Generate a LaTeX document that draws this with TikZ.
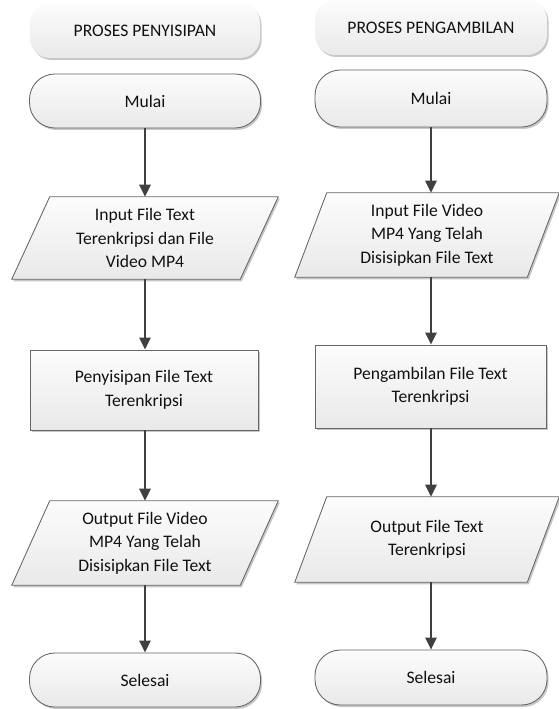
\documentclass[tikz,border=0pt]{standalone}
\usepackage{fontspec}
\setmainfont{Carlito}
\usetikzlibrary{shadows,arrows.meta,backgrounds}
\definecolor{edgec}{HTML}{666666}
\definecolor{arrowc}{HTML}{404040}
\definecolor{txtc}{HTML}{111111}
\definecolor{topc}{HTML}{FCFCFC}
\definecolor{botc}{HTML}{E9E9E9}
\tikzset{
  base/.style={inner sep=0pt, align=center, text=txtc, font=\fontsize{13.2}{17.6}\selectfont},
  shfill/.style={top color=topc, bottom color=botc,
     drop shadow={shadow xshift=1.2pt, shadow yshift=-1.5pt, opacity=0.22, fill=black}},
  titlebox/.style={base, shfill, rounded corners=15pt},
  termbox/.style={base, shfill, draw=edgec, line width=0.65pt, rounded corners=19pt},
  procbox/.style={base, shfill, draw=edgec, line width=0.65pt},
  iobox/.style={base},
  paraline/.style={shfill, draw=edgec, line width=0.65pt},
  arr/.style={draw=arrowc, line width=1.3pt, -{Triangle[length=9pt,width=8.5pt]}}
}
\begin{document}
\begin{tikzpicture}[x=0.75pt,y=-0.75pt]
\useasboundingbox (0,0) rectangle (559,709);

% left column
\node[titlebox, minimum width=172.5pt, minimum height=41.25pt] (tL) at (145,30.5) {PROSES PENYISIPAN};
\node[termbox, minimum width=173.25pt, minimum height=40.5pt] (mL) at (145,101) {Mulai};
\node[iobox, minimum width=199.5pt, minimum height=61.5pt] (pL) at (145,238) {Input File Text\\Terenkripsi dan File\\Video MP4};
\node[procbox, minimum width=171pt, minimum height=60pt] (rL) at (144,390) {Penyisipan File Text\\Terenkripsi};
\node[iobox, minimum width=199.5pt, minimum height=63pt] (oL) at (145,543) {Output File Video\\MP4 Yang Telah\\Disisipkan File Text};
\node[termbox, minimum width=173.25pt, minimum height=40.5pt] (sL) at (145,680) {Selesai};

% right column
\node[titlebox, minimum width=174pt, minimum height=41.25pt] (tR) at (431,27.5) {PROSES PENGAMBILAN};
\node[termbox, minimum width=174pt, minimum height=42.75pt] (mR) at (431,98.5) {Mulai};
\node[iobox, minimum width=198pt, minimum height=63pt] (pR) at (427,235) {Input File Video\\MP4 Yang Telah\\Disisipkan File Text};
\node[procbox, minimum width=173.25pt, minimum height=62.25pt] (rR) at (430.5,386.5) {Pengambilan File Text\\Terenkripsi};
\node[iobox, minimum width=198pt, minimum height=63.75pt] (oR) at (427,539.5) {Output File Text\\Terenkripsi};
\node[termbox, minimum width=174pt, minimum height=41.25pt] (sR) at (431,677.5) {Selesai};

% parallelograms behind text
\begin{scope}[on background layer]
\path[paraline] ([xshift=28.5pt]pL.north west) -- (pL.north east) -- ([xshift=-28.5pt]pL.south east) -- (pL.south west) -- cycle;
\path[paraline] ([xshift=28.5pt]oL.north west) -- (oL.north east) -- ([xshift=-28.5pt]oL.south east) -- (oL.south west) -- cycle;
\path[paraline] ([xshift=24pt]pR.north west) -- (pR.north east) -- ([xshift=-24pt]pR.south east) -- (pR.south west) -- cycle;
\path[paraline] ([xshift=24pt]oR.north west) -- (oR.north east) -- ([xshift=-24pt]oR.south east) -- (oR.south west) -- cycle;
\end{scope}

% connectors
\draw[arr] (mL.south) -- (mL.south |- pL.north);
\draw[arr] (mL.south |- pL.south) -- (mL.south |- rL.north);
\draw[arr] (mL.south |- rL.south) -- (mL.south |- oL.north);
\draw[arr] (mL.south |- oL.south) -- (mL.south |- sL.north);

\draw[arr] (mR.south) -- (mR.south |- pR.north);
\draw[arr] (mR.south |- pR.south) -- (mR.south |- rR.north);
\draw[arr] (mR.south |- rR.south) -- (mR.south |- oR.north);
\draw[arr] (mR.south |- oR.south) -- (mR.south |- sR.north);
\end{tikzpicture}
\end{document}
